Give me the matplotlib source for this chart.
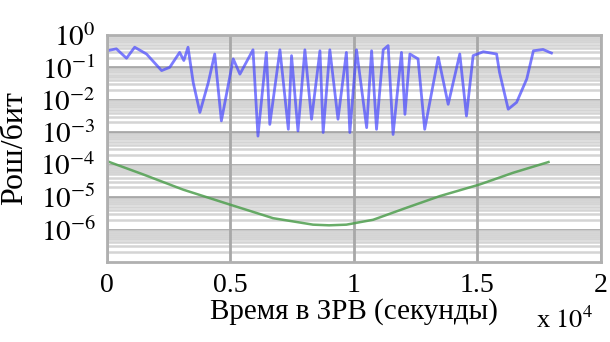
import matplotlib.pyplot as plt
import numpy as np
from matplotlib.ticker import LogLocator, NullFormatter

plt.rcParams['mathtext.fontset'] = 'stix'
plt.rcParams['font.family'] = ['Liberation Serif', 'DejaVu Serif']

# Синяя кривая: время (x 10^4 с) и log10 вероятности ошибки
x_blue = [0.0, 0.039, 0.080, 0.113, 0.161, 0.222, 0.255, 0.295, 0.312, 0.329,
          0.350, 0.377, 0.411, 0.437, 0.464, 0.512, 0.539, 0.592, 0.612, 0.646,
          0.660, 0.701, 0.735, 0.748, 0.774, 0.802, 0.829, 0.863, 0.876, 0.903,
          0.936, 0.970, 0.984, 1.011, 1.052, 1.072, 1.092, 1.119, 1.139, 1.159,
          1.193, 1.207, 1.227, 1.260, 1.287, 1.342, 1.382, 1.429, 1.456, 1.483,
          1.524, 1.578, 1.590, 1.625, 1.659, 1.700, 1.727, 1.766, 1.800]
log_blue = [-0.49, -0.43, -0.72, -0.38, -0.59, -1.10, -1.00, -0.54, -0.79, -0.38,
            -1.47, -2.39, -1.47, -0.59, -2.65, -0.74, -1.21, -0.46, -3.12, -0.54,
            -2.76, -0.46, -2.91, -0.64, -2.96, -0.46, -2.60, -0.49, -3.01, -0.46,
            -2.60, -0.54, -3.01, -0.46, -2.86, -0.49, -2.91, -0.46, -0.33, -3.07,
            -0.54, -2.45, -0.59, -0.74, -2.91, -0.69, -2.14, -0.59, -2.50, -0.64,
            -0.52, -0.59, -1.16, -2.29, -2.08, -1.36, -0.49, -0.45, -0.56]

# Зелёная кривая
x_green = [0.0, 0.147, 0.309, 0.498, 0.673, 0.835, 0.90, 0.970, 1.078, 1.213,
           1.348, 1.510, 1.645, 1.788]
log_green = [-3.89, -4.30, -4.77, -5.23, -5.65, -5.85, -5.87, -5.85, -5.70, -5.33,
             -4.97, -4.61, -4.25, -3.92]

x_ticks = [0, 0.5, 1, 1.5, 2]
x_labels = ['0', '0.5', '1', '1.5', '2']
y_exps = [0, -1, -2, -3, -4, -5, -6]

fig = plt.figure(figsize=(6.1, 3.42), dpi=100)
ax = fig.add_axes([0.175, 0.234, 0.810, 0.664])

ax.plot(x_blue, 10.0 ** np.array(log_blue), color='#4646ff', alpha=0.7, lw=2.0,
        solid_joinstyle='round')
ax.plot(x_green, 10.0 ** np.array(log_green), color='#4f9f4f', alpha=0.85, lw=1.8)

ax.set_yscale('log')
ax.set_xlim(0, 2)
ax.set_ylim(1e-7, 1)

# подписи осей
ax.set_xticks(x_ticks)
ax.set_xticklabels(x_labels)
ax.set_yticks([10.0 ** e for e in y_exps])
ax.set_yticklabels([r'$10^{%d}$' % e for e in y_exps])
ax.yaxis.set_minor_locator(LogLocator(base=10, subs=range(2, 10), numticks=30))
ax.yaxis.set_minor_formatter(NullFormatter())
ax.tick_params(which='both', length=0)
ax.tick_params(axis='y', labelsize=21, pad=8)
ax.tick_params(axis='x', labelsize=20, pad=8)

# сетка (вертикальные линии поверх горизонтальной мелкой сетки)
ax.grid(which='minor', axis='y', color='#d4d4d4', lw=1.8)
ax.grid(which='major', axis='both', color='#a8a8a8', lw=2.0)
ax.set_axisbelow(True)
ax.xaxis.set_zorder(0.6)
for s in ax.spines.values():
    s.set_color('#b0b0b0')
    s.set_linewidth(2)

ax.set_xlabel('Время в ЗРВ (секунды)', fontsize=21, labelpad=0)
ax.set_ylabel('Рош/бит', fontsize=23, labelpad=8)
fig.text(0.878, 0.04, r'x $10^{4}$', fontsize=19)

fig.savefig('out.png', dpi=100)
